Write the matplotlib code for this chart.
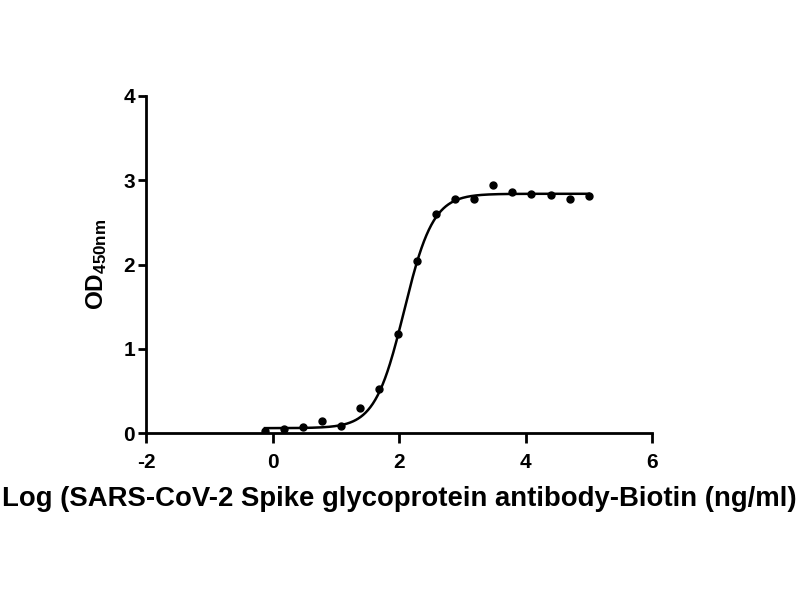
import numpy as np
import matplotlib
matplotlib.use('Agg')
import matplotlib.pyplot as plt

# measured points (log concentration, OD450)
log_conc = [-0.12, 0.18, 0.48, 0.78, 1.08, 1.39, 1.69, 1.99, 2.29, 2.59,
            2.89, 3.19, 3.49, 3.79, 4.09, 4.40, 4.70, 5.00]
od450 = [0.03, 0.05, 0.07, 0.14, 0.08, 0.30, 0.53, 1.18, 2.04, 2.60,
         2.78, 2.78, 2.95, 2.86, 2.84, 2.83, 2.78, 2.81]

# 4PL fit parameters
bottom, top, log_ec50, hill = 0.06, 2.84, 2.08, 1.89

plt.rcParams['font.family'] = ['Liberation Sans', 'DejaVu Sans']
plt.rcParams['font.weight'] = 'bold'
plt.rcParams['axes.unicode_minus'] = False
plt.rcParams['mathtext.fontset'] = 'custom'
plt.rcParams['mathtext.rm'] = 'Liberation Sans:bold'
plt.rcParams['mathtext.it'] = 'Liberation Sans:bold'
plt.rcParams['mathtext.bf'] = 'Liberation Sans:bold'

fig = plt.figure(figsize=(8, 6), dpi=100)
ax = fig.add_axes([0.1825, 0.278, 0.6325, 0.562])

xs = np.linspace(min(log_conc), max(log_conc), 400)
ys = bottom + (top - bottom) / (1 + 10 ** ((log_ec50 - xs) * hill))
ax.plot(xs, ys, color='black', lw=1.8)
ax.plot(log_conc, od450, 'o', color='black', markersize=5)

ax.set_xlim(-2, 6)
ax.set_ylim(0, 4)
ax.set_xticks([-2, 0, 2, 4, 6])
ax.set_yticks([0, 1, 2, 3, 4])
for s in ['top', 'right']:
    ax.spines[s].set_visible(False)
for s in ['left', 'bottom']:
    ax.spines[s].set_linewidth(2)
ax.tick_params(axis='x', width=2, length=7, labelsize=15, pad=7)
ax.tick_params(axis='y', width=2, length=6, labelsize=15, pad=2)
for lab in ax.get_xticklabels() + ax.get_yticklabels():
    lab.set_fontweight('bold')

ax.set_xlabel('Log (SARS-CoV-2 Spike glycoprotein antibody-Biotin (ng/ml)',
              fontsize=19.8, fontweight='bold', labelpad=10)
ax.set_ylabel(r'$\mathrm{OD_{450nm}}$', fontsize=17.5, labelpad=10)

fig.savefig('out.png', dpi=100)
